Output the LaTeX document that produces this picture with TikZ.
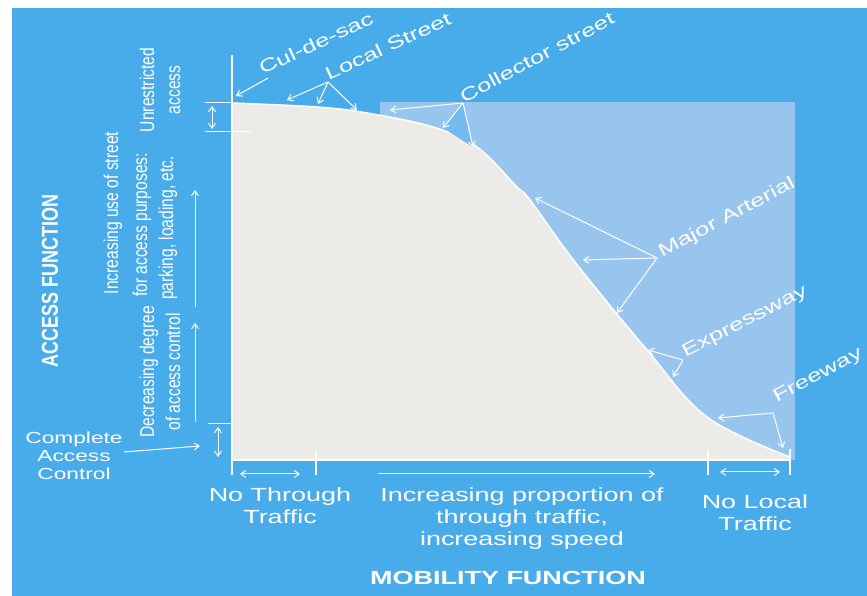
\documentclass[tikz,border=0pt]{standalone}
\usepackage{fontspec}
\setmainfont{Liberation Sans}
\newfontfamily\widefont{Liberation Sans}[FakeStretch=1.42]
\newfontfamily\narrowfont{Liberation Sans}[FakeStretch=0.78]
\usetikzlibrary{arrows.meta}
\definecolor{skyblue}{RGB}{73,172,234}
\definecolor{paleblue}{RGB}{152,197,238}
\definecolor{offwhite}{RGB}{236,235,231}

\begin{document}
\begin{tikzpicture}[x=1pt,y=1pt,
    lbl/.style={text=white,font=\widefont\fontsize{18}{22}\selectfont,inner sep=0pt,align=center},
    vlbl/.style={text=white,font=\narrowfont\fontsize{20}{26}\selectfont,rotate=90,align=center,inner sep=0pt},
    ann/.style={white,line width=1pt,-{Straight Barb[length=5pt,width=7pt]}},
    both/.style={white,line width=1pt,{Straight Barb[length=5pt,width=7pt]}-{Straight Barb[length=5pt,width=7pt]}},
    axis/.style={white,line width=1.5pt}]
  \useasboundingbox (0,0) rectangle (867,596);
  \fill[white] (0,0) rectangle (867,596);
  \fill[skyblue] (12,0) rectangle (867,588);
  \fill[paleblue] (380,136) rectangle (795,494);

  % curve
  \filldraw[fill=offwhite,draw=white,line width=1.5pt] (232,136) -- plot[smooth,tension=0.6] coordinates {(232,493) (317,489) (367,483) (433,469) (477,449) (517,409) (530,396) (575,334) (647,246) (707,179) (790,139)} -- (790,136) -- cycle;

  % axes and ticks
  \coordinate (O) at (232,136);
  \coordinate (Ytop) at (232,541);
  \coordinate (Ybot) at (232,121);
  \coordinate (Xend) at (790,136);
  \draw[axis] (Ytop) -- (Ybot);
  \draw[axis] (O) -- (Xend);
  \draw[axis] (316,143) -- (316,121);
  \draw[axis] (708,145) -- (708,121);
  \draw[axis] (790,147) -- (790,121);
  \draw[both] (240,122) -- (300,122);
  \draw[ann] (378,122) -- (655,122);
  \draw[both] (720,124) -- (780,124);

  % brackets on the access axis
  \draw[axis,line width=1pt] (205,493) -- (232,493);
  \draw[axis,line width=1pt] (205,464) -- (250,464);
  \draw[both] (212,490) -- (212,467);
  \draw[axis,line width=1pt] (208,172) -- (233,172);
  \draw[both] (218,169) -- (218,139);

  % access side texts
  \node[vlbl,font=\narrowfont\bfseries\fontsize{23}{26}\selectfont] (acc) at (50,315) {ACCESS FUNCTION};
  \node[vlbl] (inc1) at (113,383) {Increasing use of street};
  \node[vlbl] (inc2) at (142,371) {for access purposes:};
  \node[vlbl] (inc3) at (168,368) {parking, loading, etc.};
  \node[vlbl] (unr) at (160,506) {Unrestricted\\access};
  \node[vlbl] (dec) at (160,224) {Decreasing degree\\of access control};
  \coordinate (up1a) at (195,289);
  \coordinate (up1b) at (195,406);
  \coordinate (up2a) at (195,174);
  \coordinate (up2b) at (195,273);
  \draw[ann] (up1a) -- (up1b);
  \draw[ann] (up2a) -- (up2b);
  \node[lbl,font=\widefont\fontsize{16}{18}\selectfont] (comp) at (74,140) {Complete\\Access\\Control};
  \coordinate (compT) at (200,150);
  \draw[ann] (124,144) -- (compT);

  % mobility side texts
  \node[lbl,font=\widefont\fontsize{19}{22}\selectfont] (nothru) at (280,90) {No Through\\Traffic};
  \node[lbl,font=\widefont\fontsize{19}{22}\selectfont] (incprop) at (522,77) {Increasing proportion of\\through traffic,\\increasing speed};
  \node[lbl,font=\widefont\fontsize{19}{22}\selectfont] (noloc) at (755,83) {No Local\\Traffic};
  \node[lbl,font=\widefont\bfseries\fontsize{19}{22}\selectfont] (mob) at (508,18) {MOBILITY FUNCTION};

  % street classes
  \node[lbl,rotate=25] (cul) at (316,553) {Cul-de-sac};
  \node[lbl,rotate=25] (local) at (388,550) {Local Street};
  \node[lbl,rotate=28] (coll) at (537,539) {Collector street};
  \node[lbl,rotate=28] (major) at (727,378) {Major Arterial};
  \node[lbl,rotate=27] (expr) at (745,274) {Expressway};
  \node[lbl,rotate=28] (free) at (818,220) {Freeway};

  \coordinate (culA) at (268,518);
  \coordinate (culT) at (236,500);
  \draw[ann] (culA) -- (culT);

  \coordinate (locA) at (328,514);
  \draw[ann] (locA) -- (287,496);
  \draw[ann] (locA) -- (318,492);
  \draw[ann] (locA) -- (357,486);

  \coordinate (colA) at (463,493);
  \fill[paleblue!55!skyblue] (colA) -- (443,468) -- (473,449) -- cycle;
  \draw[ann] (colA) -- (390,486);
  \draw[ann] (colA) -- (443,468);
  \draw[ann] (colA) -- (473,449);

  \coordinate (majA) at (657,338);
  \draw[ann] (majA) -- (535,398);
  \draw[ann] (majA) -- (583,336);
  \draw[ann] (majA) -- (617,283);

  \coordinate (expA) at (683,236);
  \draw[ann] (expA) -- (648,246);
  \draw[ann] (expA) -- (673,219);

  \coordinate (freA) at (773,183);
  \draw[ann] (freA) -- (718,178);
  \draw[ann] (freA) -- (783,148);
\end{tikzpicture}
\end{document}
